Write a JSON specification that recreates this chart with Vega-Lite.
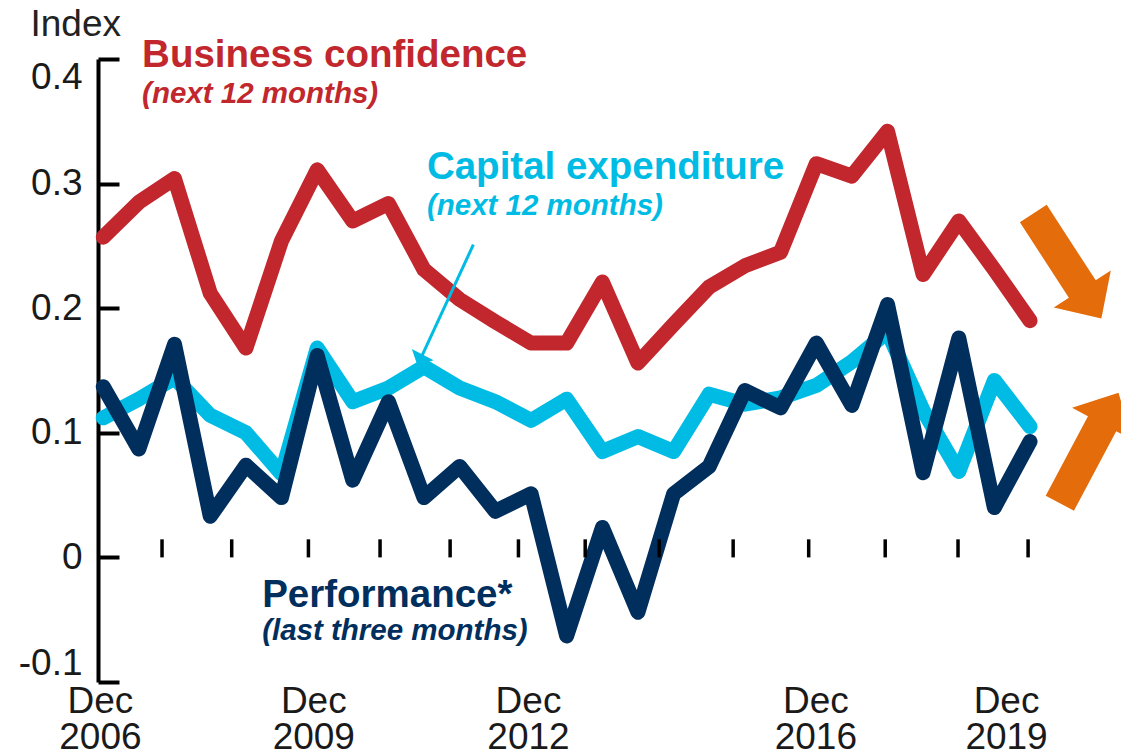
{
  "$schema": "https://vega.github.io/schema/vega-lite/v6.json",
  "width": 1023,
  "height": 623,
  "autosize": {"type": "none"},
  "padding": {"left": 98, "top": 59, "right": 0, "bottom": 70},
  "background": "white",
  "config": {"font": "Liberation Sans", "view": {"stroke": null}},
  "datasets": {
    "series": [
      {"date": "2006-12-01", "series": "Business confidence", "value": 0.257},
      {"date": "2007-06-01", "series": "Business confidence", "value": 0.285},
      {"date": "2007-12-01", "series": "Business confidence", "value": 0.304},
      {"date": "2008-06-01", "series": "Business confidence", "value": 0.212},
      {"date": "2008-12-01", "series": "Business confidence", "value": 0.168},
      {"date": "2009-06-01", "series": "Business confidence", "value": 0.254},
      {"date": "2009-12-01", "series": "Business confidence", "value": 0.311},
      {"date": "2010-06-01", "series": "Business confidence", "value": 0.270},
      {"date": "2010-12-01", "series": "Business confidence", "value": 0.284},
      {"date": "2011-06-01", "series": "Business confidence", "value": 0.231},
      {"date": "2011-12-01", "series": "Business confidence", "value": 0.207},
      {"date": "2012-06-01", "series": "Business confidence", "value": 0.189},
      {"date": "2012-12-01", "series": "Business confidence", "value": 0.172},
      {"date": "2013-06-01", "series": "Business confidence", "value": 0.172},
      {"date": "2013-12-01", "series": "Business confidence", "value": 0.221},
      {"date": "2014-06-01", "series": "Business confidence", "value": 0.156},
      {"date": "2014-12-01", "series": "Business confidence", "value": 0.187},
      {"date": "2015-06-01", "series": "Business confidence", "value": 0.217},
      {"date": "2015-12-01", "series": "Business confidence", "value": 0.234},
      {"date": "2016-06-01", "series": "Business confidence", "value": 0.245},
      {"date": "2016-12-01", "series": "Business confidence", "value": 0.316},
      {"date": "2017-06-01", "series": "Business confidence", "value": 0.306},
      {"date": "2017-12-01", "series": "Business confidence", "value": 0.342},
      {"date": "2018-06-01", "series": "Business confidence", "value": 0.227},
      {"date": "2018-12-01", "series": "Business confidence", "value": 0.270},
      {"date": "2019-06-01", "series": "Business confidence", "value": 0.231},
      {"date": "2019-12-01", "series": "Business confidence", "value": 0.190},
      {"date": "2006-12-01", "series": "Capital expenditure", "value": 0.112},
      {"date": "2007-06-01", "series": "Capital expenditure", "value": 0.127},
      {"date": "2007-12-01", "series": "Capital expenditure", "value": 0.144},
      {"date": "2008-06-01", "series": "Capital expenditure", "value": 0.114},
      {"date": "2008-12-01", "series": "Capital expenditure", "value": 0.100},
      {"date": "2009-06-01", "series": "Capital expenditure", "value": 0.067},
      {"date": "2009-12-01", "series": "Capital expenditure", "value": 0.168},
      {"date": "2010-06-01", "series": "Capital expenditure", "value": 0.125},
      {"date": "2010-12-01", "series": "Capital expenditure", "value": 0.136},
      {"date": "2011-06-01", "series": "Capital expenditure", "value": 0.153},
      {"date": "2011-12-01", "series": "Capital expenditure", "value": 0.136},
      {"date": "2012-06-01", "series": "Capital expenditure", "value": 0.125},
      {"date": "2012-12-01", "series": "Capital expenditure", "value": 0.110},
      {"date": "2013-06-01", "series": "Capital expenditure", "value": 0.127},
      {"date": "2013-12-01", "series": "Capital expenditure", "value": 0.085},
      {"date": "2014-06-01", "series": "Capital expenditure", "value": 0.097},
      {"date": "2014-12-01", "series": "Capital expenditure", "value": 0.085},
      {"date": "2015-06-01", "series": "Capital expenditure", "value": 0.131},
      {"date": "2015-12-01", "series": "Capital expenditure", "value": 0.123},
      {"date": "2016-06-01", "series": "Capital expenditure", "value": 0.128},
      {"date": "2016-12-01", "series": "Capital expenditure", "value": 0.138},
      {"date": "2017-06-01", "series": "Capital expenditure", "value": 0.157},
      {"date": "2017-12-01", "series": "Capital expenditure", "value": 0.181},
      {"date": "2018-06-01", "series": "Capital expenditure", "value": 0.118},
      {"date": "2018-12-01", "series": "Capital expenditure", "value": 0.069},
      {"date": "2019-06-01", "series": "Capital expenditure", "value": 0.142},
      {"date": "2019-12-01", "series": "Capital expenditure", "value": 0.105},
      {"date": "2006-12-01", "series": "Performance", "value": 0.137},
      {"date": "2007-06-01", "series": "Performance", "value": 0.087},
      {"date": "2007-12-01", "series": "Performance", "value": 0.171},
      {"date": "2008-06-01", "series": "Performance", "value": 0.033},
      {"date": "2008-12-01", "series": "Performance", "value": 0.074},
      {"date": "2009-06-01", "series": "Performance", "value": 0.048},
      {"date": "2009-12-01", "series": "Performance", "value": 0.162},
      {"date": "2010-06-01", "series": "Performance", "value": 0.062},
      {"date": "2010-12-01", "series": "Performance", "value": 0.125},
      {"date": "2011-06-01", "series": "Performance", "value": 0.048},
      {"date": "2011-12-01", "series": "Performance", "value": 0.073},
      {"date": "2012-06-01", "series": "Performance", "value": 0.037},
      {"date": "2012-12-01", "series": "Performance", "value": 0.051},
      {"date": "2013-06-01", "series": "Performance", "value": -0.063},
      {"date": "2013-12-01", "series": "Performance", "value": 0.024},
      {"date": "2014-06-01", "series": "Performance", "value": -0.044},
      {"date": "2014-12-01", "series": "Performance", "value": 0.051},
      {"date": "2015-06-01", "series": "Performance", "value": 0.073},
      {"date": "2015-12-01", "series": "Performance", "value": 0.134},
      {"date": "2016-06-01", "series": "Performance", "value": 0.120},
      {"date": "2016-12-01", "series": "Performance", "value": 0.172},
      {"date": "2017-06-01", "series": "Performance", "value": 0.122},
      {"date": "2017-12-01", "series": "Performance", "value": 0.203},
      {"date": "2018-06-01", "series": "Performance", "value": 0.068},
      {"date": "2018-12-01", "series": "Performance", "value": 0.176},
      {"date": "2019-06-01", "series": "Performance", "value": 0.040},
      {"date": "2019-12-01", "series": "Performance", "value": 0.093}
    ],
    "xticks": [
      {"date": "2007-09-28"}, {"date": "2008-09-19"}, {"date": "2009-10-17"},
      {"date": "2010-10-19"}, {"date": "2011-10-13"}, {"date": "2012-09-27"},
      {"date": "2013-09-04"}, {"date": "2014-09-18"}, {"date": "2015-10-02"},
      {"date": "2016-10-23"}, {"date": "2017-11-19"}, {"date": "2018-11-27"},
      {"date": "2019-11-21"}
    ],
    "notes": [
      {"series": "Business confidence", "kind": "title", "text": "Business confidence", "date": "2007-06-18", "value": 0.3936},
      {"series": "Business confidence", "kind": "sub", "text": "(next 12 months)", "date": "2007-06-18", "value": 0.3647},
      {"series": "Capital expenditure", "kind": "title", "text": "Capital expenditure", "date": "2011-06-16", "value": 0.3037},
      {"series": "Capital expenditure", "kind": "sub", "text": "(next 12 months)", "date": "2011-06-16", "value": 0.2748},
      {"series": "Performance", "kind": "title", "text": "Performance*", "date": "2009-02-22", "value": -0.0398},
      {"series": "Performance", "kind": "sub", "text": "(last three months)", "date": "2009-02-22", "value": -0.0665}
    ],
    "annot": [
      {"item": "pointer", "date": "2012-02-09", "value": 0.251, "date2": "2011-05-12", "value2": 0.1585},
      {"item": "pointer head", "date": "2011-05-12", "value": 0.1585},
      {"item": "arrow down", "date": "2020-06-09", "value": 0.2339},
      {"item": "arrow up", "date": "2020-09-29", "value": 0.0878}
    ]
  },
  "layer": [
    {
      "data": {"name": "series"},
      "mark": {"type": "line", "strokeWidth": 15, "strokeCap": "round", "strokeJoin": "round"},
      "encoding": {
        "x": {
          "field": "date", "type": "temporal",
          "scale": {"type": "utc", "domain": [{"year": 2006, "month": 11, "date": 4, "utc": true}, {"year": 2021, "month": 3, "date": 11, "utc": true}], "nice": false},
          "axis": {
            "title": null, "domain": false, "ticks": false, "grid": false,
            "values": [
              {"year": 2006, "month": 11, "date": 14, "utc": true},
              {"year": 2009, "month": 11, "date": 11, "utc": true},
              {"year": 2012, "month": 11, "date": 15, "utc": true},
              {"year": 2016, "month": 11, "date": 26, "utc": true},
              {"year": 2019, "month": 7, "date": 31, "utc": true}
            ],
            "labelExpr": "['Dec', utcFormat(datum.value, '%Y')]",
            "labelFontSize": 37, "labelColor": "#1a1a1a", "labelPadding": 30,
            "labelBaseline": "alphabetic", "labelLineHeight": 36.5, "labelAlign": "center",
            "labelFlush": false, "labelOverlap": false, "labelBound": false
          }
        },
        "y": {
          "field": "value", "type": "quantitative",
          "scale": {"domain": [-0.1, 0.4], "nice": false, "zero": false},
          "axis": {
            "title": "Index", "titleAngle": 0, "titleAlign": "left", "titleBaseline": "alphabetic",
            "titleX": -68, "titleY": -24, "titleFontSize": 37, "titleFontWeight": "normal", "titleColor": "#222222",
            "values": [-0.1, 0, 0.1, 0.2, 0.3, 0.4],
            "labelExpr": "datum.value == 0 ? '0' : (datum.value < 0 ? '-' : '') + format(abs(datum.value), '.1f')",
            "labelFontSize": 37, "labelColor": "#1a1a1a", "labelFlush": true, "labelPadding": 37,
            "tickSize": -21, "tickWidth": 4, "tickColor": "black",
            "domainWidth": 4, "domainColor": "black", "grid": false
          }
        },
        "color": {
          "field": "series", "type": "nominal",
          "scale": {"domain": ["Business confidence", "Capital expenditure", "Performance"], "range": ["#C1272D", "#00BCE4", "#002E5D"]},
          "legend": null
        }
      }
    },
    {
      "mark": {"type": "rule", "strokeWidth": 4, "color": "black"},
      "encoding": {
        "x": {"datum": {"year": 2006, "month": 11, "date": 4, "utc": true}, "type": "temporal"},
        "x2": {"datum": {"year": 2019, "month": 12, "date": 1, "utc": true}},
        "y": {"datum": 0, "type": "quantitative"}
      }
    },
    {
      "data": {"name": "xticks"},
      "mark": {"type": "rule", "strokeWidth": 3.5, "color": "black"},
      "encoding": {
        "x": {"field": "date", "type": "temporal"},
        "y": {"datum": 0, "type": "quantitative"},
        "y2": {"datum": 0.0145}
      }
    },
    {
      "data": {"name": "annot"},
      "transform": [{"filter": "datum.item == 'pointer'"}],
      "mark": {"type": "rule", "strokeWidth": 3, "color": "#00BCE4"},
      "encoding": {
        "x": {"field": "date", "type": "temporal"},
        "x2": {"field": "date2"},
        "y": {"field": "value", "type": "quantitative"},
        "y2": {"field": "value2"}
      }
    },
    {
      "data": {"name": "annot"},
      "transform": [{"filter": "datum.item == 'pointer head'"}],
      "mark": {"type": "point", "shape": "M -1 -0.48 L 1 -0.48 L 0 0.48 Z", "size": 600, "angle": 27, "filled": true, "opacity": 1, "color": "#00BCE4", "strokeWidth": 0},
      "encoding": {
        "x": {"field": "date", "type": "temporal"},
        "y": {"field": "value", "type": "quantitative"}
      }
    },
    {
      "data": {"name": "notes"},
      "transform": [{"filter": "datum.kind == 'title'"}],
      "mark": {"type": "text", "align": "left", "baseline": "alphabetic", "fontSize": 38.5, "fontWeight": "bold"},
      "encoding": {
        "x": {"field": "date", "type": "temporal"},
        "y": {"field": "value", "type": "quantitative"},
        "text": {"field": "text"},
        "color": {"field": "series", "type": "nominal", "legend": null}
      }
    },
    {
      "data": {"name": "notes"},
      "transform": [{"filter": "datum.kind == 'sub'"}],
      "mark": {"type": "text", "align": "left", "baseline": "alphabetic", "fontSize": 29.5, "fontWeight": "bold", "fontStyle": "italic"},
      "encoding": {
        "x": {"field": "date", "type": "temporal"},
        "y": {"field": "value", "type": "quantitative"},
        "text": {"field": "text"},
        "color": {"field": "series", "type": "nominal", "legend": null}
      }
    },
    {
      "data": {"name": "annot"},
      "transform": [{"filter": "datum.item == 'arrow down'"}],
      "mark": {"type": "point", "shape": "M -1 -0.256 L 0.44 -0.256 L 0.44 -0.544 L 1 0 L 0.44 0.544 L 0.44 0.256 L -1 0.256 Z", "size": 15625, "angle": 57, "filled": true, "opacity": 1, "color": "#E46C0A", "strokeWidth": 0},
      "encoding": {
        "x": {"field": "date", "type": "temporal"},
        "y": {"field": "value", "type": "quantitative"}
      }
    },
    {
      "data": {"name": "annot"},
      "transform": [{"filter": "datum.item == 'arrow up'"}],
      "mark": {"type": "point", "shape": "M -1 -0.256 L 0.44 -0.256 L 0.44 -0.544 L 1 0 L 0.44 0.544 L 0.44 0.256 L -1 0.256 Z", "size": 15625, "angle": -62, "filled": true, "opacity": 1, "color": "#E46C0A", "strokeWidth": 0},
      "encoding": {
        "x": {"field": "date", "type": "temporal"},
        "y": {"field": "value", "type": "quantitative"}
      }
    }
  ]
}
